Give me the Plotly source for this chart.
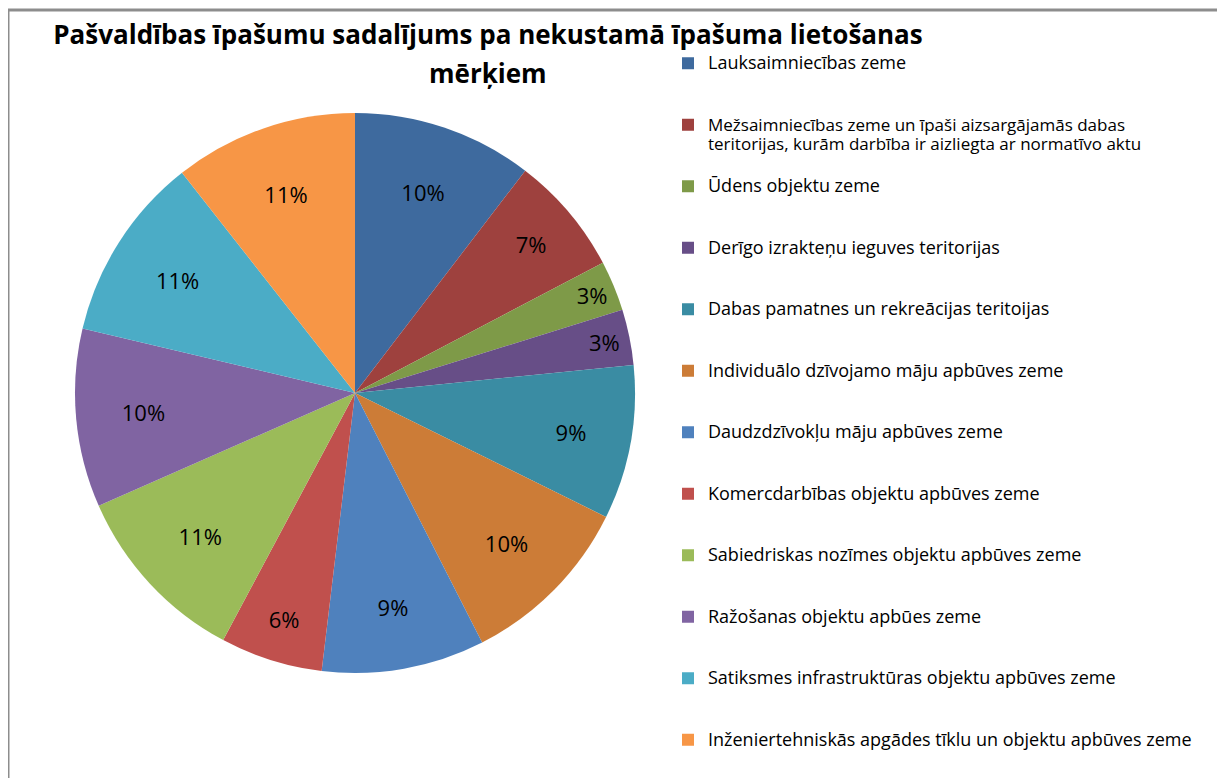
import plotly.graph_objects as go

title_line1 = "Pašvaldības īpašumu sadalījums pa nekustamā īpašuma lietošanas"
title_line2 = "mērķiem"

categories = [
    "Lauksaimniecības zeme",
    "Mežsaimniecības zeme un īpaši aizsargājamās dabas<br>teritorijas, kurām darbība ir aizliegta ar normatīvo aktu",
    "Ūdens objektu zeme",
    "Derīgo izrakteņu ieguves teritorijas",
    "Dabas pamatnes un rekreācijas teritoijas",
    "Individuālo dzīvojamo māju apbūves zeme",
    "Daudzdzīvokļu māju apbūves zeme",
    "Komercdarbības objektu apbūves zeme",
    "Sabiedriskas nozīmes objektu apbūves zeme",
    "Ražošanas objektu apbūes zeme",
    "Satiksmes infrastruktūras objektu apbūves zeme",
    "Inženiertehniskās apgādes tīklu un objektu apbūves zeme",
]

# share of each category (percent of total)
values = [10.4, 6.9, 2.9, 3.2, 8.9, 10.2, 9.4, 5.9, 10.6, 10.3, 10.7, 10.6]

colors = [
    "#3E6A9E", "#9E413E", "#7E9A48", "#674E87", "#3A8CA3", "#CC7C37",
    "#4F81BD", "#C0504D", "#9BBB59", "#8064A2", "#4BACC6", "#F79646",
]

# pad each legend entry (except the last) to three lines so rows are evenly spaced
legend_labels = []
for i, c in enumerate(categories):
    lines = c.split("<br>")
    fs = 18 if len(lines) == 1 else 17
    txt = "<br>".join('<span style="font-size:%dpx">' % fs + ln + "</span>" for ln in lines)
    if i < len(categories) - 1:
        txt += "<br> " * (3 - len(lines))
    legend_labels.append(txt)

W, H = 1225, 778
OFF = 8  # page body margin offset

fig = go.Figure(
    go.Pie(
        labels=legend_labels,
        values=values,
        sort=False,
        direction="clockwise",
        rotation=0,
        marker=dict(colors=colors, line=dict(width=0)),
        texttemplate="%{percent:.0%}",
        textposition="inside",
        insidetextorientation="horizontal",
        textfont=dict(family="Open Sans", size=22, color="#000000"),
        hoverinfo="percent",
        domain=dict(x=[(75 - OFF) / W, (635 - OFF) / W],
                    y=[1 - (673 - OFF) / H, 1 - (113 - OFF) / H]),
    )
)

fig.update_layout(
    width=W,
    height=H,
    margin=dict(l=0, r=0, t=0, b=0),
    paper_bgcolor="white",
    plot_bgcolor="white",
    font=dict(family="Open Sans", color="#000000"),
    title=dict(
        text=title_line1,
        x=(488 - OFF) / W,
        xanchor="center",
        xref="container",
        y=1 - (35 - OFF) / H,
        yanchor="middle",
        yref="container",
        font=dict(family="Open Sans", size=26, color="#000000", weight="bold"),
    ),
    annotations=[
        dict(
            text=title_line2,
            x=(488 - OFF) / W,
            y=1 - (73 - OFF) / H,
            xref="paper",
            yref="paper",
            xanchor="center",
            yanchor="middle",
            showarrow=False,
            font=dict(family="Open Sans", size=26, color="#000000", weight="bold"),
        )
    ],
    legend=dict(
        x=(668 - OFF) / W,
        y=1 - (47 - OFF) / H,
        xanchor="left",
        yanchor="top",
        valign="top",
        font=dict(family="Open Sans", size=15, color="#000000"),
        bgcolor="rgba(0,0,0,0)",
        itemclick=False,
    ),
    showlegend=True,
    shapes=[
        dict(
            type="rect",
            xref="paper",
            yref="paper",
            x0=0,
            y0=-0.05,
            x1=1.05,
            y1=1 - (10 - OFF) / H,
            line=dict(color="#8D8D8D", width=3),
            fillcolor="rgba(0,0,0,0)",
        )
    ],
)

fig.write_html("out.html")
